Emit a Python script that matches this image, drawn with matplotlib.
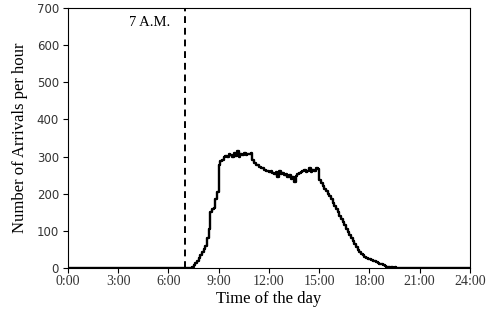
import matplotlib
matplotlib.use("Agg")
import matplotlib.pyplot as plt

hours = [0.0, 7.3, 7.4, 7.5, 7.6, 7.7, 7.8, 7.9, 8.0, 8.1, 8.2, 8.3, 8.4, 8.5, 8.6, 8.7, 8.8, 8.9,
         9.0, 9.1, 9.2, 9.3, 9.4, 9.5, 9.6, 9.7, 9.8, 9.9, 10.0, 10.1, 10.2, 10.3, 10.4, 10.5, 10.6,
         10.7, 10.8, 10.9, 11.0, 11.1, 11.2, 11.3, 11.4, 11.5, 11.6, 11.7, 11.8, 11.9, 12.0, 12.1,
         12.2, 12.3, 12.4, 12.5, 12.6, 12.7, 12.8, 12.9, 13.0, 13.1, 13.2, 13.3, 13.4, 13.5, 13.6,
         13.7, 13.8, 13.9, 14.0, 14.1, 14.2, 14.3, 14.4, 14.5, 14.6, 14.7, 14.8, 14.9, 15.0, 15.1,
         15.2, 15.3, 15.4, 15.5, 15.6, 15.7, 15.8, 15.9, 16.0, 16.1, 16.2, 16.3, 16.4, 16.5, 16.6,
         16.7, 16.8, 16.9, 17.0, 17.1, 17.2, 17.3, 17.4, 17.5, 17.6, 17.7, 17.8, 17.9, 18.0, 18.1,
         18.2, 18.3, 18.4, 18.5, 18.6, 18.7, 18.8, 18.9, 19.0, 19.1, 19.2, 19.3, 19.4, 19.5, 19.6,
         19.7, 24.0]
arrivals = [0, 0, 4, 8, 14, 20, 28, 36, 44, 52, 60, 80, 105, 150, 158, 162, 185, 205,
            278, 288, 292, 298, 302, 300, 308, 305, 298, 310, 302, 314, 300, 306, 304, 310, 303,
            308, 306, 310, 290, 284, 278, 276, 272, 270, 268, 265, 262, 260, 258, 262,
            256, 254, 258, 245, 260, 252, 256, 250, 254, 246, 250, 240, 245, 232, 248,
            252, 255, 258, 262, 265, 258, 262, 268, 258, 264, 262, 268, 266, 238, 228,
            220, 212, 206, 200, 194, 186, 176, 168, 160, 150, 140, 132, 124, 116, 106,
            98, 90, 80, 72, 64, 56, 48, 42, 38, 35, 30, 27, 25, 23, 21,
            20, 18, 16, 14, 12, 10, 8, 5, 2, 2, 1, 2, 1, 2, 1,
            0, 0]

xticks = [0, 3, 6, 9, 12, 15, 18, 21, 24]
xticklabels = ["0:00", "3:00", "6:00", "9:00", "12:00", "15:00", "18:00", "21:00", "24:00"]
yticks = [0, 100, 200, 300, 400, 500, 600, 700]
marker_hour = 7
marker_label = "7 A.M."

serif = ["Liberation Serif", "DejaVu Serif"]

fig = plt.figure(figsize=(4.89, 3.20), dpi=100)
ax = fig.add_axes([0.139, 0.1625, 0.822, 0.8125])
ax.plot(hours, arrivals, drawstyle="steps-post", color="black", lw=1.7)
ax.axvline(marker_hour, color="black", ls=(0, (3.5, 2.5)), lw=1.4)
ax.text(4.9, 662, marker_label, fontfamily=serif, fontsize=10.5, ha="center", va="center")

ax.set_xlim(0, 24)
ax.set_ylim(0, 700)
ax.set_xticks(xticks)
ax.set_xticklabels(xticklabels, fontfamily=serif, fontsize=10, color="#333333")
ax.set_yticks(yticks)
for lab in ax.get_yticklabels():
    lab.set_fontsize(8.5)
    lab.set_color("#333333")
ax.tick_params(length=3.5, width=0.8, pad=1.5)
ax.tick_params(axis="y", pad=3)
ax.set_xlabel("Time of the day", fontfamily=serif, fontsize=12, labelpad=2)
ax.set_ylabel("Number of Arrivals per hour", fontfamily=serif, fontsize=12, labelpad=6)
for s in ax.spines.values():
    s.set_linewidth(0.8)

fig.savefig("out.png", dpi=100)
